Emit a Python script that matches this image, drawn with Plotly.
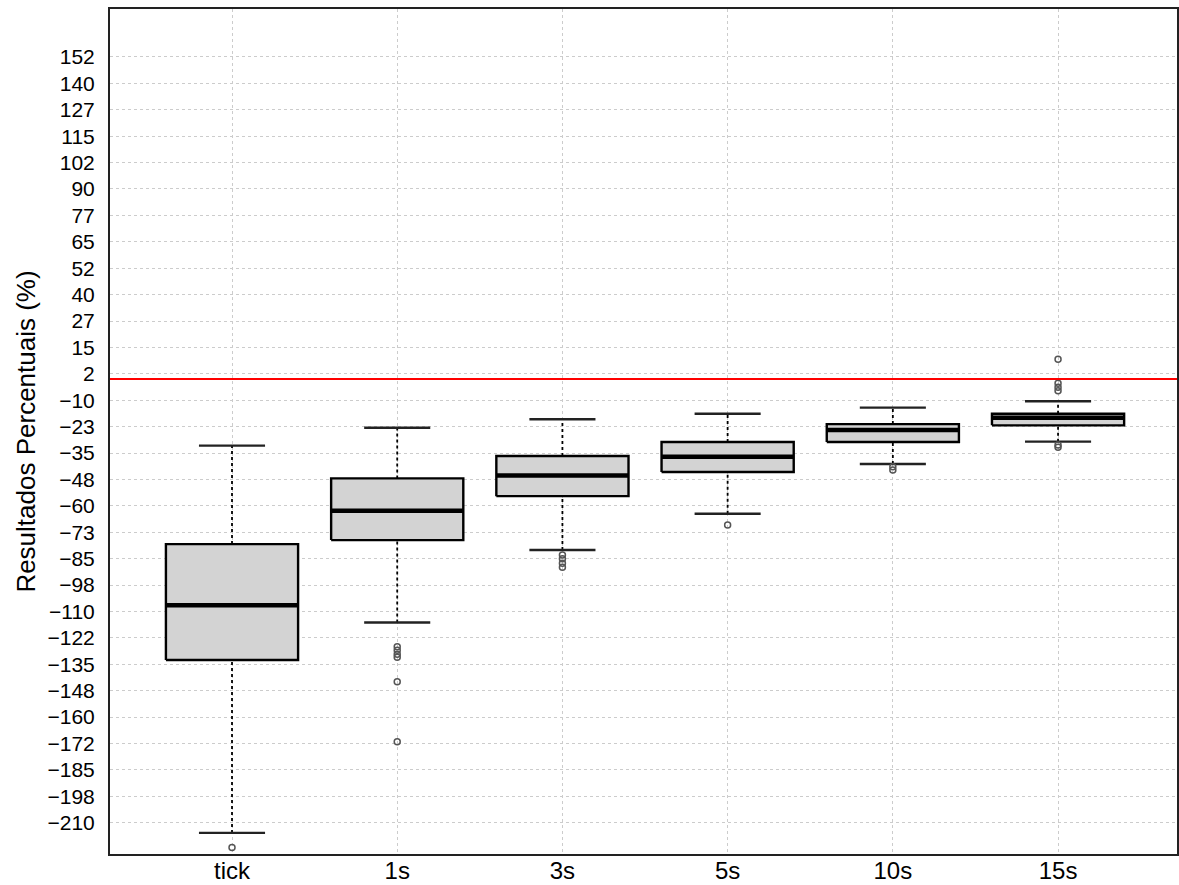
import plotly.graph_objects as go

# Box statistics per time window
categories = ["tick", "1s", "3s", "5s", "10s", "15s"]
positions = [0, 1, 2, 3, 4, 5]
q1 = [-133.0, -76.2, -55.4, -44.0, -29.8, -21.9]
median = [-107.0, -62.3, -45.6, -36.7, -24.1, -18.3]
q3 = [-78.1, -47.0, -36.4, -29.8, -21.3, -16.4]
lower_whisker = [-214.8, -115.2, -80.9, -63.7, -40.2, -29.6]
upper_whisker = [-31.5, -23.0, -19.0, -16.4, -13.5, -10.5]

# Outlying points per window
out_tick = [-221.7]
out_1s = [-126.7, -128.3, -130.2, -131.7, -143.3, -171.7]
out_3s = [-83.3, -85.0, -87.2, -89.1]
out_5s = [-69.1]
out_10s = [-41.5, -43.0]
out_15s = [9.4, -2.0, -3.9, -5.5, -31.2, -32.3]
outlier_groups = [out_tick, out_1s, out_3s, out_5s, out_10s, out_15s]

# Reference level
reference_value = 0

# Y axis ticks
y_tick_values = [-210, -197.5, -185, -172.5, -160, -147.5, -135, -122.5, -110,
                 -97.5, -85, -72.5, -60, -47.5, -35, -22.5, -10, 2.5, 15, 27.5,
                 40, 52.5, 65, 77.5, 90, 102.5, 115, 127.5, 140, 152.5]
y_tick_labels = ["-210", "-198", "-185", "-172", "-160", "-148", "-135", "-122",
                 "-110", "-98", "-85", "-73", "-60", "-48", "-35", "-23", "-10",
                 "2", "15", "27", "40", "52", "65", "77", "90", "102", "115",
                 "127", "140", "152"]
y_tick_labels = [t.replace("-", "\u2212") for t in y_tick_labels]

BOX_HALF = 0.4
CAP_HALF = 0.2

fig = go.Figure()

# dashed whiskers
wx, wy = [], []
for p, lo, a, b, hi in zip(positions, lower_whisker, q1, q3, upper_whisker):
    wx += [p, p, None, p, p, None]
    wy += [lo, a, None, b, hi, None]
fig.add_trace(go.Scatter(x=wx, y=wy, mode="lines",
                         line=dict(color="black", width=1.8, dash="3px,3px"),
                         hoverinfo="skip", showlegend=False))

# whisker caps
cx, cy = [], []
for p, lo, hi in zip(positions, lower_whisker, upper_whisker):
    cx += [p - CAP_HALF, p + CAP_HALF, None, p - CAP_HALF, p + CAP_HALF, None]
    cy += [lo, lo, None, hi, hi, None]
fig.add_trace(go.Scatter(x=cx, y=cy, mode="lines",
                         line=dict(color="#222222", width=2.4),
                         hoverinfo="skip", showlegend=False))

# boxes
for p, a, b in zip(positions, q1, q3):
    fig.add_trace(go.Scatter(
        x=[p - BOX_HALF, p + BOX_HALF, p + BOX_HALF, p - BOX_HALF, p - BOX_HALF],
        y=[a, a, b, b, a], mode="lines", fill="toself", fillcolor="#d3d3d3",
        line=dict(color="black", width=2.4), hoverinfo="skip", showlegend=False))

# medians
mx, my = [], []
for p, m in zip(positions, median):
    mx += [p - BOX_HALF, p + BOX_HALF, None]
    my += [m, m, None]
fig.add_trace(go.Scatter(x=mx, y=my, mode="lines",
                         line=dict(color="black", width=4.5),
                         hoverinfo="skip", showlegend=False))

# outliers
ox, oy = [], []
for p, vals in zip(positions, outlier_groups):
    ox += [p] * len(vals)
    oy += vals
fig.add_trace(go.Scatter(x=ox, y=oy, mode="markers",
                         marker=dict(symbol="circle-open", size=6, color="#555555",
                                     line=dict(width=1.5)),
                         showlegend=False))

fig.add_hline(y=reference_value, line=dict(color="#ff0000", width=2))

fig.update_layout(
    width=1179, height=885,
    margin=dict(l=110, r=2, t=9, b=31),
    plot_bgcolor="white", paper_bgcolor="white",
    font=dict(family="Liberation Sans, Arial, sans-serif", color="black"),
    showlegend=False,
)
fig.update_xaxes(
    range=[-0.7385, 5.72], tickmode="array", tickvals=positions, ticktext=categories,
    tickfont=dict(size=24), ticks="", ticklabelstandoff=-6, automargin=False,
    showgrid=True, gridcolor="#cccccc", griddash="dot", gridwidth=1,
    showline=True, linecolor="#222222", linewidth=2, mirror=True, zeroline=False,
)
fig.update_yaxes(
    range=[-224.8, 175.2], tickmode="array", tickvals=y_tick_values, ticktext=y_tick_labels,
    tickfont=dict(size=21), ticks="", ticklabelstandoff=9, automargin=False,
    showgrid=True, gridcolor="#cccccc", griddash="dot", gridwidth=1,
    showline=True, linecolor="#222222", linewidth=2, mirror=True, zeroline=False,
    title=dict(text="Resultados Percentuais (%)", font=dict(size=26), standoff=4),
)

fig.write_html("out.html")
